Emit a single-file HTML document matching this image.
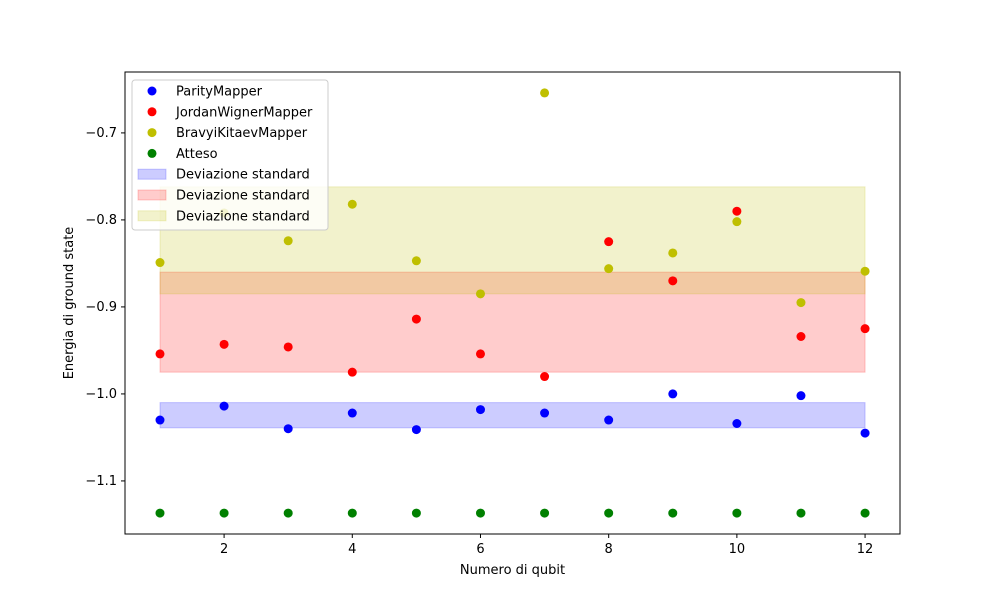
<!DOCTYPE html>
<html><head><meta charset="utf-8"><style>
body{margin:0;background:#fff;font-family:"Liberation Sans","DejaVu Sans",sans-serif}
svg text{font-family:"DejaVu Sans","Liberation Sans",sans-serif;font-size:13px;fill:#000}
</style></head><body>
<svg id="chart" width="1000" height="600" viewBox="0 0 1000 600"></svg>
<script>
const qubits=[1,2,3,4,5,6,7,8,9,10,11,12];
const parity=[-1.030,-1.014,-1.040,-1.022,-1.041,-1.018,-1.022,-1.030,-1.000,-1.034,-1.002,-1.045];
const jordan=[-0.954,-0.943,-0.946,-0.975,-0.914,-0.954,-0.980,-0.825,-0.870,-0.790,-0.934,-0.925];
const bravyi=[-0.849,-0.792,-0.824,-0.782,-0.847,-0.885,-0.654,-0.856,-0.838,-0.802,-0.895,-0.859];
const atteso=[-1.137,-1.137,-1.137,-1.137,-1.137,-1.137,-1.137,-1.137,-1.137,-1.137,-1.137,-1.137];
const bandParity=[-1.010,-1.039];
const bandJordan=[-0.860,-0.975];
const bandBravyi=[-0.762,-0.885];
const xTicks=[2,4,6,8,10,12];
const yTicks=[-0.7,-0.8,-0.9,-1.0,-1.1];
const yTickLabels=["\u22120.7","\u22120.8","\u22120.9","\u22121.0","\u22121.1"];

const L=125,R=900,T=72,B=534,xMin=0.454,xMax=12.545,yMin=-1.161,yMax=-0.630;
const X=v=>L+(v-xMin)/(xMax-xMin)*(R-L);
const Y=v=>B-(v-yMin)/(yMax-yMin)*(B-T);
const svg=document.getElementById('chart');
const NS='http://www.w3.org/2000/svg';
function mk(tag,attrs,parent){const e=document.createElementNS(NS,tag);for(const k in attrs)e.setAttribute(k,attrs[k]);(parent||svg).appendChild(e);return e;}

function band(b,fill,stroke,name){
  const r=mk('rect',{x:X(qubits[0]),y:Y(b[0]),width:X(qubits[qubits.length-1])-X(qubits[0]),height:Y(b[1])-Y(b[0]),fill:fill,'fill-opacity':0.2,stroke:stroke,'stroke-opacity':0.2});
  
  
}
band(bandParity,'#0000ff','#0000ff','band-parity');
band(bandJordan,'#ff0000','#ff0000','band-jordan-wigner');
band(bandBravyi,'#bfbf00','#bfbf00','band-bravyi-kitaev');

function series(vals,color,name){
  vals.forEach((v,i)=>{
    const c=mk('circle',{cx:X(qubits[i]),cy:Y(v),r:4.5,fill:color});
    
    
  });
}
series(parity,'#0000ff','parity');
series(jordan,'#ff0000','jordan-wigner');
series(bravyi,'#bfbf00','bravyi-kitaev');
series(atteso,'#008000','atteso');

const frame=mk('rect',{x:L,y:T,width:R-L,height:B-T,fill:'none',stroke:'#000','stroke-width':1});



xTicks.forEach(t=>{
  mk('line',{x1:X(t),x2:X(t),y1:B,y2:B+4,stroke:'#000'});
  const tx=mk('text',{x:X(t),y:B+19,'text-anchor':'middle','font-size':'12'});
  tx.textContent=t;
  
  
});
yTicks.forEach((t,i)=>{
  mk('line',{x1:L-4,x2:L,y1:Y(t),y2:Y(t),stroke:'#000'});
  const tx=mk('text',{x:L-8,y:Y(t)+4,'text-anchor':'end','font-size':'12'});
  tx.textContent=yTickLabels[i];
  
  
});
const xt=mk('text',{x:(L+R)/2,y:574,'text-anchor':'middle'});
xt.textContent='Numero di qubit';


const yt=mk('text',{x:73,y:(T+B)/2,'text-anchor':'middle',transform:`rotate(-90 73 ${(T+B)/2})`});
yt.textContent='Energia di ground state';



const lg=mk('g',{});


mk('rect',{x:132,y:80,width:196,height:150,rx:3,fill:'#fff','fill-opacity':0.8,stroke:'#ccc'},lg);
const entries=[['ParityMapper','#0000ff','pt'],['JordanWignerMapper','#ff0000','pt'],['BravyiKitaevMapper','#bfbf00','pt'],['Atteso','#008000','pt'],
['Deviazione standard','#0000ff','band'],['Deviazione standard','#ff0000','band'],['Deviazione standard','#bfbf00','band']];
entries.forEach((e,i)=>{
  const y=91+i*20.8;
  const g=mk('g',{},lg);
  
  
  if(e[2]==='pt') mk('circle',{cx:152,cy:y,r:4.5,fill:e[1]},g);
  else mk('rect',{x:138,y:y-5,width:28,height:10,fill:e[1],'fill-opacity':0.2,stroke:e[1],'stroke-opacity':0.2},g);
  const t=mk('text',{x:176,y:y+4.5},g);
  t.textContent=e[0];
});
</script>
</body></html>
